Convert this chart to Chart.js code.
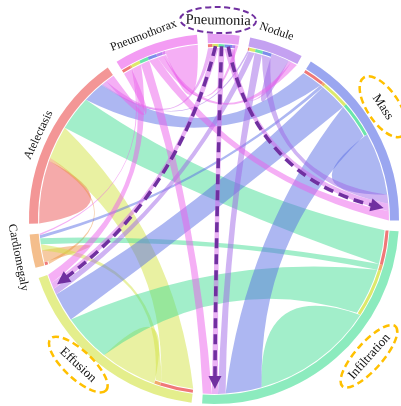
<!DOCTYPE html>
<html>
<head>
<meta charset="utf-8">
<script src="https://cdn.jsdelivr.net/npm/chart.js@4.4.1/dist/chart.umd.min.js"></script>
<style>
  html, body { margin: 0; padding: 0; background: #ffffff; }
  #wrap { width: 401px; height: 406px; }
</style>
</head>
<body>
<div id="wrap"><canvas id="chord" width="401" height="406"></canvas></div>
<script>
// Findings in matrix order (rows and columns)
const diseases = ['Atelectasis', 'Cardiomegaly', 'Effusion', 'Infiltration', 'Mass', 'Nodule', 'Pneumonia', 'Pneumothorax'];

// Co-occurrence weights, upper triangle; column order follows `diseases`
const atelectasisRow  = [10.5, 1, 11, 11.5, 7, 0.5, 1.5, 3];
const cardiomegalyRow = [0, 2, 2, 2, 1, 0, 0, 0.5];
const effusionRow     = [0, 0, 9.5, 16, 9.5, 2, 2, 3];
const infiltrationRow = [0, 0, 0, 20.5, 12, 2.5, 2, 3];
const massRow         = [0, 0, 0, 0, 10.5, 3, 2.5, 3];
const noduleRow       = [0, 0, 0, 0, 0, 3, 1, 2];
const pneumoniaRow    = [0, 0, 0, 0, 0, 0, 0, 1];
const pneumothoraxRow = [0, 0, 0, 0, 0, 0, 0, 5.5];

// Sectors clockwise from the top of the circle
const ringOrder = ['Pneumonia', 'Nodule', 'Mass', 'Infiltration', 'Effusion', 'Cardiomegaly', 'Atelectasis', 'Pneumothorax'];

// Finding whose links are traced with arrows, and the findings it points to
const focusFinding = 'Pneumonia';
const tracedFindings = ['Effusion', 'Infiltration', 'Mass'];

const rows = [atelectasisRow, cardiomegalyRow, effusionRow, infiltrationRow, massRow, noduleRow, pneumoniaRow, pneumothoraxRow];

// ---- styles ----
const palette = {
  Atelectasis:  [236, 86, 86],
  Cardiomegaly: [238, 150, 70],
  Effusion:     [212, 228, 70],
  Infiltration: [70, 222, 150],
  Mass:         [92, 112, 230],
  Nodule:       [160, 104, 232],
  Pneumonia:    [214, 104, 236],
  Pneumothorax: [236, 96, 236]
};
const rgba = (name, a) => `rgba(${palette[name].join(',')},${a})`;
const RING_ALPHA = 0.62, RIBBON_ALPHA = 0.5, BAR_ALPHA = 0.8;
const GAP_DEG = 3.3;      // white gap between sectors
const BEND = 0.55;        // how far link curves are pulled towards the centre
const labelStyle = {
  Pneumonia:    { nudge: -1.8, r: 199, size: 14.5, ring: { color: '#7030A0', rx: 38, ry: 13, width: 2 } },
  Nodule:       { nudge: -1.3, r: 198, size: 12 },
  Mass:         { nudge: -4.6, r: 203, size: 13, ring: { color: '#FFC000', rx: 35, ry: 16, width: 2.5 } },
  Infiltration: { nudge: -7.2, r: 207, size: 13, ring: { color: '#FFC000', rx: 40, ry: 13.5, width: 2.5 } },
  Effusion:     { nudge: 3.8,  r: 199, size: 13, ring: { color: '#FFC000', rx: 38, ry: 14, width: 2.5 } },
  Cardiomegaly: { nudge: -1.1, r: 199, size: 12 },
  Atelectasis:  { nudge: -1.1, r: 195, size: 12 },
  Pneumothorax: { nudge: -2.5, r: 197, size: 12 }
};
const FONT = '"Liberation Serif", "Times New Roman", serif';
const ARROW_COLOR = '#7030A0';

// ---- sector sizes from the matrix (self links count at both ends) ----
const n = diseases.length;
function sectorTotal(i) {
  let t = rows[i][i];
  for (let j = 0; j < n; j++) {
    t += rows[i][j];
    if (j !== i) t += rows[j][i];
  }
  return t;
}
const sectorTotals = ringOrder.map(name => sectorTotal(diseases.indexOf(name)));
const grand = sectorTotals.reduce((a, b) => a + b, 0);
const gapValue = grand * GAP_DEG / (360 - ringOrder.length * GAP_DEG);

const ringValues = [], ringColors = [], ringLabels = [];
ringOrder.forEach((name, s) => {
  ringValues.push(sectorTotals[s]); ringColors.push(rgba(name, RING_ALPHA)); ringLabels.push(name);
  ringValues.push(gapValue); ringColors.push('rgba(0,0,0,0)'); ringLabels.push('');
});

// ---- link end positions inside each sector ----
function layoutEnds(arcs) {
  const srcEnd = {}, tgtEnd = {}, selfEnd = {};
  ringOrder.forEach((name, s) => {
    const arc = arcs[2 * s];
    const i = diseases.indexOf(name);
    const list = [];
    for (let k = 0; k < i; k++) if (rows[k][i] > 0) list.push({ map: tgtEnd, key: k + '>' + i, v: rows[k][i] });
    if (rows[i][i] > 0) {
      list.push({ map: selfEnd, key: i + 'a', v: rows[i][i] });
      list.push({ map: selfEnd, key: i + 'b', v: rows[i][i] });
    }
    for (let j = i + 1; j < n; j++) if (rows[i][j] > 0) list.push({ map: srcEnd, key: i + '>' + j, v: rows[i][j] });
    const per = (arc.endAngle - arc.startAngle) / sectorTotals[s];
    let a = arc.startAngle;
    list.forEach(e => { e.map[e.key] = { a0: a, a1: a + e.v * per }; a += e.v * per; });
  });
  return { srcEnd, tgtEnd, selfEnd };
}

function curveTo(ctx, cx, cy, rA, aA, rB, aB) {
  const px = cx + rA * Math.cos(aA), py = cy + rA * Math.sin(aA);
  const qx = cx + rB * Math.cos(aB), qy = cy + rB * Math.sin(aB);
  const mx = (px + qx) / 2, my = (py + qy) / 2;
  ctx.quadraticCurveTo(mx + BEND * (cx - mx), my + BEND * (cy - my), qx, qy);
}

function ribbon(ctx, cx, cy, e1, r1, e2, r2, fill) {
  ctx.beginPath();
  ctx.arc(cx, cy, r1, e1.a0, e1.a1);
  curveTo(ctx, cx, cy, r1, e1.a1, r2, e2.a0);
  ctx.arc(cx, cy, r2, e2.a0, e2.a1);
  curveTo(ctx, cx, cy, r2, e2.a1, r1, e1.a0);
  ctx.closePath();
  ctx.fillStyle = fill;
  ctx.fill();
}

const chordPlugin = {
  id: 'chordLinks',
  beforeDatasetsDraw(chart) {
    const arcs = chart.getDatasetMeta(0).data;
    const { x: cx, y: cy, innerRadius } = arcs[0];
    const { srcEnd, tgtEnd, selfEnd } = layoutEnds(arcs);
    const rSrc = innerRadius - 1, barOut = innerRadius - 1, barIn = innerRadius - 4, rTgt = innerRadius - 5;
    const ctx = chart.ctx;
    ctx.save();
    for (let i = 0; i < n; i++) {
      for (let j = i; j < n; j++) {
        const v = rows[i][j];
        if (!(v > 0)) continue;
        const target = diseases[j];
        if (i === j) {
          ribbon(ctx, cx, cy, selfEnd[i + 'a'], rSrc, selfEnd[i + 'b'], rSrc, rgba(target, RIBBON_ALPHA));
        } else {
          const key = i + '>' + j;
          ribbon(ctx, cx, cy, srcEnd[key], rSrc, tgtEnd[key], rTgt, rgba(target, RIBBON_ALPHA));
        }
      }
    }
    // source-colour markers at the receiving end of each link
    for (let i = 0; i < n; i++) {
      for (let j = i + 1; j < n; j++) {
        if (!(rows[i][j] > 0)) continue;
        const e = tgtEnd[i + '>' + j];
        ctx.beginPath();
        ctx.arc(cx, cy, barOut, e.a0, e.a1);
        ctx.arc(cx, cy, barIn, e.a1, e.a0, true);
        ctx.closePath();
        ctx.fillStyle = rgba(diseases[i], BAR_ALPHA);
        ctx.fill();
      }
    }
    ctx.restore();
  },
  afterDraw(chart) {
    const arcs = chart.getDatasetMeta(0).data;
    const { x: cx, y: cy, innerRadius } = arcs[0];
    const { srcEnd, tgtEnd } = layoutEnds(arcs);
    const ctx = chart.ctx;
    ctx.save();

    // dashed arrows along the traced links
    const f = diseases.indexOf(focusFinding);
    tracedFindings.forEach(name => {
      const t = diseases.indexOf(name);
      const key = Math.min(f, t) + '>' + Math.max(f, t);
      const fromEnd = f < t ? srcEnd[key] : tgtEnd[key];
      const toEnd = f < t ? tgtEnd[key] : srcEnd[key];
      const aS = (fromEnd.a0 + fromEnd.a1) / 2, aE = (toEnd.a0 + toEnd.a1) / 2;
      const rS = innerRadius - 3, rE = innerRadius - 6;
      const px = cx + rS * Math.cos(aS), py = cy + rS * Math.sin(aS);
      const qx = cx + rE * Math.cos(aE), qy = cy + rE * Math.sin(aE);
      const mx = (px + qx) / 2, my = (py + qy) / 2;
      const kx = mx + BEND * (cx - mx), ky = my + BEND * (cy - my);
      let dx = qx - kx, dy = qy - ky;
      const len = Math.hypot(dx, dy); dx /= len; dy /= len;
      const head = 13, half = 6.5;
      ctx.strokeStyle = ARROW_COLOR;
      ctx.lineWidth = 3.6;
      ctx.setLineDash([10, 6]);
      ctx.lineCap = 'butt';
      ctx.beginPath();
      ctx.moveTo(px, py);
      ctx.quadraticCurveTo(kx, ky, qx - dx * head * 0.6, qy - dy * head * 0.6);
      ctx.stroke();
      ctx.setLineDash([]);
      ctx.fillStyle = ARROW_COLOR;
      ctx.beginPath();
      ctx.moveTo(qx, qy);
      ctx.lineTo(qx - dx * head - dy * half, qy - dy * head + dx * half);
      ctx.lineTo(qx - dx * head + dy * half, qy - dy * head - dx * half);
      ctx.closePath();
      ctx.fill();
    });

    // sector names, written along the circle
    ringOrder.forEach((name, s) => {
      const arc = arcs[2 * s];
      const st = labelStyle[name];
      const theta = ((arc.startAngle + arc.endAngle) / 2) * 180 / Math.PI + 90 + st.nudge;
      const th = theta * Math.PI / 180;
      const x = cx + st.r * Math.sin(th), y = cy - st.r * Math.cos(th);
      let rot = ((theta % 360) + 360) % 360;
      if (rot > 90 && rot < 270) rot -= 180;
      else if (rot >= 270) rot -= 360;
      ctx.save();
      ctx.translate(x, y);
      ctx.rotate(rot * Math.PI / 180);
      ctx.fillStyle = '#111111';
      ctx.font = `${st.size}px ${FONT}`;
      ctx.textAlign = 'center';
      ctx.textBaseline = 'middle';
      ctx.fillText(name, 0, 0.5);
      if (st.ring) {
        ctx.strokeStyle = st.ring.color;
        ctx.lineWidth = st.ring.width;
        ctx.setLineDash(st.ring.color === '#FFC000' ? [7, 4] : [6, 3.5]);
        ctx.beginPath();
        ctx.ellipse(0, 0, st.ring.rx, st.ring.ry, 0, 0, Math.PI * 2);
        ctx.stroke();
      }
      ctx.restore();
    });
    ctx.restore();
  }
};

new Chart(document.getElementById('chord'), {
  type: 'doughnut',
  data: {
    labels: ringLabels,
    datasets: [{
      data: ringValues,
      backgroundColor: ringColors,
      borderWidth: 0,
      hoverOffset: 0
    }]
  },
  options: {
    responsive: false,
    animation: false,
    events: [],
    rotation: -2,
    radius: 185,
    cutout: '95.1%',
    layout: { padding: { left: 27, right: 0, top: 32, bottom: 0 } },
    plugins: { legend: { display: false }, tooltip: { enabled: false } }
  },
  plugins: [chordPlugin]
});
</script>
</body>
</html>
